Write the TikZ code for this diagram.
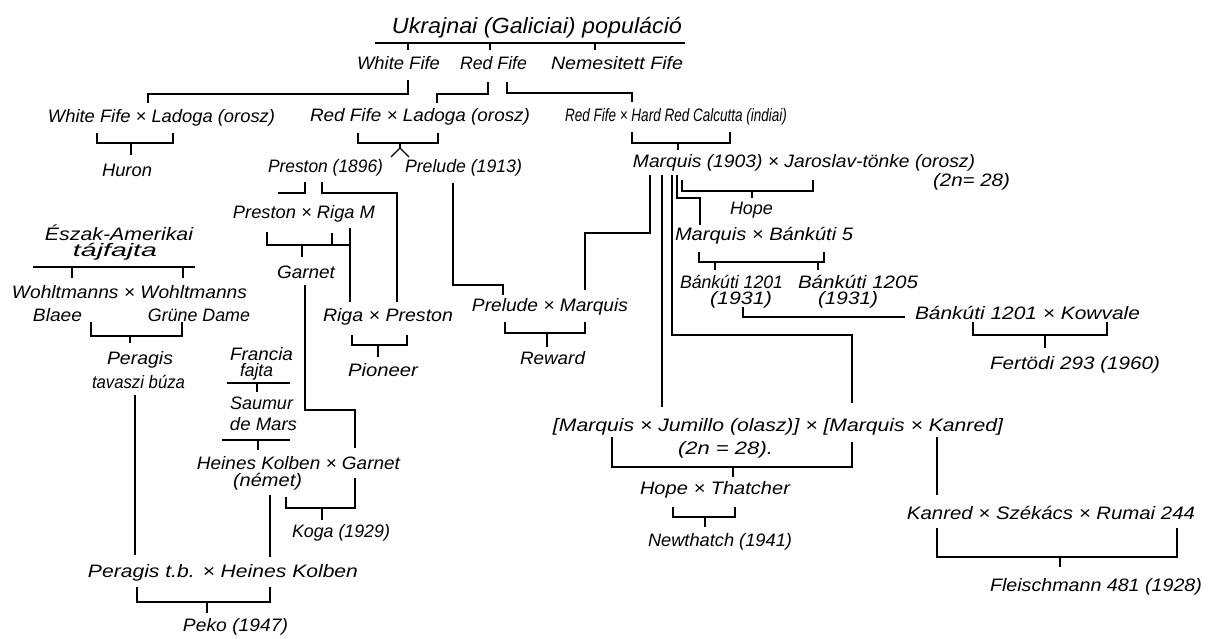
\documentclass[tikz,border=0pt]{standalone}
\usepackage{fontspec}
\usepackage{graphicx}
\setmainfont{Liberation Sans}
% squeeze a label to the width it has in the chart
\newcommand{\sq}[2]{\resizebox{#1pt}{\height}{#2}}

\begin{document}
\begin{tikzpicture}[x=1pt,y=-1pt,line width=1.1pt,
  lab/.style={font=\itshape\fontsize{18}{20}\selectfont,inner sep=0pt},
  ttl/.style={font=\itshape\fontsize{22}{24}\selectfont,inner sep=0pt}]
\useasboundingbox (0,0) rectangle (1211,639);
% top: Ukrainian population
\node[ttl] (ukr) at (537,28) {\sq{290}{Ukrajnai (Galiciai) populáció}};
\draw (375,43)--(685,43);
\draw (408,43)--(408,50) (490,43)--(490,50) (595,43)--(595,50);
\node[lab] (wf) at (398.5,63) {\sq{83}{White Fife}};
\node[lab] (rf) at (493.5,63) {\sq{67}{Red Fife}};
\node[lab] (nf) at (617,63) {\sq{132}{Nemesitett Fife}};
\draw (408,80)--(408,94)--(148,94)--(148,103);
\draw (488,82)--(488,94)--(437,94)--(437,103);
\draw (507,82)--(507,93)--(632,93)--(632,102);
% first crosses
\node[lab] (wfl) at (161.5,118) {\sq{227}{White Fife × Ladoga (orosz)}};
\node[lab] (rfl) at (420,117) {\sq{220}{Red Fife × Ladoga (orosz)}};
\node[lab] (rfc) at (676,117) {\sq{222}{Red Fife × Hard Red Calcutta (indiai)}};
\draw (97,133)--(97,143)--(173,143)--(173,133) (131,143)--(131,155);
\node[lab] (huron) at (127,170) {\sq{50}{Huron}};
\draw (358,133)--(358,143)--(438,143)--(438,133) (400,143)--(400,148);
\draw (391,157)--(400,148)--(409,157);
\node[lab] (pres) at (325.5,168) {\sq{115}{Preston (1896)}};
\node[lab] (prel) at (463.5,168) {\sq{117}{Prelude (1913)}};
\draw (632,132)--(632,143)--(730,143)--(730,132) (678,143)--(678,150);
\node[lab] (marq) at (804,163) {\sq{342}{Marquis (1903) × Jaroslav-tönke (orosz)}};
\node[lab] (n28a) at (971.5,182) {\sq{77}{(2n= 28)}};
% Preston line
\draw (305,182)--(305,193)--(278,193);
\draw (322,182)--(322,193)--(397,193)--(397,302);
\node[lab] (pxr) at (304,214) {\sq{142}{Preston × Riga M}};
\draw (267,232)--(267,245)--(350,245) (332,233)--(332,245) (302,245)--(302,257);
\draw (350,228)--(350,302);
\node[lab] (garnet) at (306,272) {\sq{58}{Garnet}};
\node[lab] (rxp) at (388,317) {\sq{130}{Riga × Preston}};
\draw (352,335)--(352,345)--(407,345)--(407,335) (378,345)--(378,357);
\node[lab] (pioneer) at (383,370) {\sq{70}{Pioneer}};
\draw (305,285)--(305,410)--(355,410)--(355,448);
% Prelude and Marquis
\draw (453,183)--(453,285)--(503,285)--(503,295);
\draw (650,175)--(650,233)--(585,233)--(585,290);
\node[lab] (pxm) at (550,307) {\sq{156}{Prelude × Marquis}};
\draw (505,322)--(505,333)--(585,333)--(585,322) (547,333)--(547,347);
\node[lab] (reward) at (552.5,358) {\sq{65}{Reward}};
\draw (662,175)--(662,407);
\draw (672,175)--(672,335)--(852,335)--(852,403);
\draw (677,175)--(677,198)--(700,198)--(700,225);
\draw (682,180)--(682,191)--(813,191)--(813,180) (752,191)--(752,198);
\node[lab] (hope) at (751.5,210) {\sq{43}{Hope}};
\node[lab] (mb5) at (764,236) {\sq{178}{Marquis × Bánkúti 5}};
\draw (699,252)--(699,262)--(824,262)--(824,252) (715,262)--(715,270) (818,262)--(818,270);
\node[lab] (b1201) at (731.5,282) {\sq{103}{Bánkúti 1201}};
\node[lab] (b1201y) at (741,300) {\sq{62}{(1931)}};
\node[lab] (b1205) at (858,282) {\sq{120}{Bánkúti 1205}};
\node[lab] (b1205y) at (848,300) {\sq{60}{(1931)}};
\draw (743,307)--(743,317)--(905,317);
\node[lab] (bk) at (1027.5,313) {\sq{225}{Bánkúti 1201 × Kowvale}};
\draw (973,322)--(973,335)--(1107,335)--(1107,322) (1045,335)--(1045,348);
\node[lab] (fert) at (1075,365) {\sq{170}{Fertödi 293 (1960)}};
% North American landrace
\node[lab] (esz) at (119,233) {\sq{148}{Észak-Amerikai}};
\node[lab] (taj) at (115,252) {\sq{84}{tájfajta}};
\draw (33,267)--(195,267) (72,267)--(72,278) (183,267)--(183,278);
\node[lab] (wxw) at (129.5,292) {\sq{235}{Wohltmanns × Wohltmanns}};
\node[lab] (blaee) at (57.5,315) {\sq{49}{Blaee}};
\node[lab] (grune) at (199,315) {\sq{102}{Grüne Dame}};
\draw (91,322)--(91,336)--(182,336)--(182,322) (130,336)--(130,343);
\node[lab] (peragis) at (140,360) {\sq{66}{Peragis}};
\node[lab] (tav) at (138.5,382) {\sq{93}{tavaszi búza}};
\draw (135,395)--(135,555);
% French variety
\node[lab] (francia) at (261.5,354) {\sq{63}{Francia}};
\node[lab] (fajta) at (256.5,372) {\sq{33}{fajta}};
\draw (227,383)--(290,383) (257,383)--(257,392);
\node[lab] (saumur) at (261.5,403) {\sq{63}{Saumur}};
\node[lab] (demars) at (263.5,424) {\sq{67}{de Mars}};
\draw (222,440)--(290,440) (258,440)--(258,450);
\node[lab] (hkg) at (298.5,463) {\sq{203}{Heines Kolben × Garnet}};
\node[lab] (nemet) at (267.5,482) {\sq{69}{(német)}};
\draw (286,497)--(286,508)--(355,508)--(355,478) (322,508)--(322,520);
\node[lab] (koga) at (341,533) {\sq{98}{Koga (1929)}};
\draw (270,495)--(270,557);
\node[lab] (pxh) at (223,573) {\sq{270}{Peragis t.b. × Heines Kolben}};
\draw (137,587)--(137,602)--(270,602)--(270,587) (207,602)--(207,613);
\node[lab] (peko) at (235.5,627) {\sq{105}{Peko (1947)}};
% Marquis hybrids
\node[lab] (mjk) at (778,427) {\sq{450}{[Marquis × Jumillo (olasz)] × [Marquis × Kanred]}};
\node[lab] (n28b) at (725.5,450) {\sq{95}{(2n = 28).}};
\draw (612,437)--(612,467)--(852,467)--(852,442) (733,467)--(733,477);
\node[lab] (hxt) at (715,490) {\sq{150}{Hope × Thatcher}};
\draw (673,507)--(673,517)--(735,517)--(735,507) (705,517)--(705,527);
\node[lab] (newt) at (720,542) {\sq{144}{Newthatch (1941)}};
\draw (937,437)--(937,495);
\node[lab] (kszr) at (1051,513) {\sq{288}{Kanred × Székács × Rumai 244}};
\draw (937,528)--(937,557)--(1177,557)--(1177,528) (1060,557)--(1060,567);
\node[lab] (fleis) at (1096,587) {\sq{212}{Fleischmann 481 (1928)}};
\end{tikzpicture}
\end{document}
